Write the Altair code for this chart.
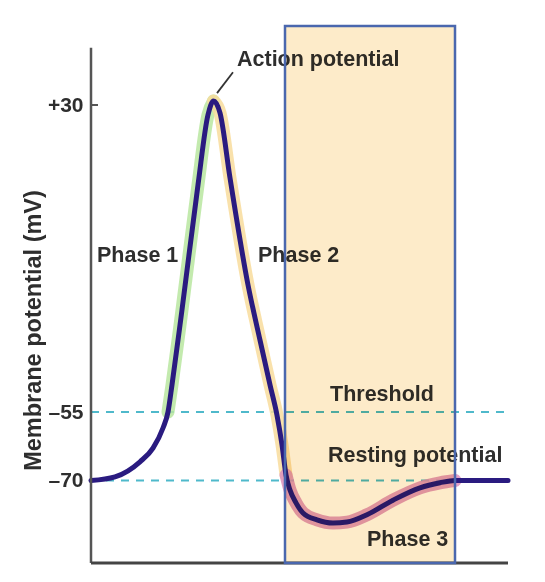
import altair as alt
import pandas as pd

# ---- data ----
time_ms = [0.00, 0.48, 0.98, 1.24, 1.44, 1.54, 1.62, 1.82, 2.14, 2.34, 2.45, 2.58,
           2.78, 3.14, 3.38, 3.58, 3.72, 3.82, 3.90, 3.98, 4.10, 4.24, 4.52, 4.84,
           5.12, 5.52, 6.04, 6.58, 6.98, 7.28, 8.34]
potential_mv = [-70.0, -69.2, -65.9, -62.9, -58.5, -55.0, -47.5, -26.7, 7.9, 27.3, 31.1, 27.8,
                9.8, -19.8, -35.1, -47.5, -55.7, -62.2, -68.8, -72.1, -74.9, -77.1, -78.6, -79.3,
                -79.1, -77.5, -74.3, -71.6, -70.5, -70.0, -70.0]

phase_names = ["Phase 1", "Phase 2", "Phase 3"]
phase_start = [5, 10, 18]
phase_end = [10, 18, 29]
phase_colors = ["#b9e6a0", "#f8dc9c", "#dc8fbc"]

label_text = ["Action potential", "Phase 1", "Phase 2", "Threshold", "Resting potential", "Phase 3"]
label_t = [2.92, 0.12, 3.34, 4.78, 4.74, 5.52]
label_mv = [40.7, -13.5, -13.5, -52.0, -66.0, -84.3]

level_mv = [-55, -70]
level_end_t = [8.36, 7.30]

tick_values = [30, -55, -70]

box_t = [3.88, 7.28]
y_min, y_max = -88.05, 51.9
x_max = 8.34
axis_top_mv = 45.9

FONT = "Liberation Sans, Arial, sans-serif"
TXT = "#2e2e2e"

# ---- scales ----
xsc = alt.Scale(domain=[0, x_max], nice=False, zero=False)
ysc = alt.Scale(domain=[y_min, -70, -55, 30, y_max], range=[537, 454.5, 386, 79, 0],
                nice=False, zero=False)
yaxis = alt.Axis(values=tick_values,
                 labelExpr="datum.value > 0 ? '+' + datum.value : '\u2013' + (-datum.value)",
                 ticks=False, domain=False, grid=False, labelPadding=8,
                 labelFont=FONT, labelFontSize=21, labelFontWeight="bold", labelColor=TXT,
                 title="Membrane potential (mV)", titleFont=FONT, titleFontSize=23.5,
                 titleFontWeight="bold", titleColor=TXT, titleAngle=270,
                 titleX=-58, titleY=304, titleAlign="center", titleBaseline="middle")
X = alt.X("t:Q", scale=xsc, axis=None)
Y = alt.Y("mv:Q", scale=ysc, axis=yaxis)

curve = pd.DataFrame({"t": time_ms, "mv": potential_mv})

layers = []

# dashed reference levels
levels = pd.DataFrame({"t": [0.0] * len(level_mv), "t2": level_end_t, "mv": level_mv})
layers.append(alt.Chart(levels).mark_rule(color="#4fb9cb", strokeWidth=2.2, strokeDash=[8, 7])
              .encode(x=X, x2="t2:Q", y=Y))

# glows for each phase
for name, a, b, col in zip(phase_names, phase_start, phase_end, phase_colors):
    seg = curve.iloc[a:b + 1]
    layers.append(alt.Chart(seg).mark_line(color=col, strokeWidth=13, opacity=0.85,
                                           interpolate="monotone", strokeCap="round")
                  .encode(x=X, y=Y))

# main trace
layers.append(alt.Chart(curve).mark_line(color="#2a1b80", strokeWidth=5,
                                         interpolate="monotone", strokeCap="round",
                                         strokeJoin="round")
              .encode(x=X, y=Y))

# leader line to "Action potential"
leader = pd.DataFrame({"t": [2.52], "t2": [2.84], "mv": [33.3], "mv2": [39.1]})
layers.append(alt.Chart(leader).mark_rule(color="#333333", strokeWidth=1.8)
              .encode(x=X, x2="t2:Q", y=Y, y2="mv2:Q"))

# labels
labels = pd.DataFrame({"t": label_t, "mv": label_mv, "txt": label_text})
layers.append(alt.Chart(labels).mark_text(font=FONT, fontSize=21.5, fontWeight="bold",
                                          color=TXT, align="left", baseline="alphabetic")
              .encode(x=X, y=Y, text="txt:N"))

# +30 tick
tick = pd.DataFrame({"t": [0.0], "t2": [0.14], "mv": [30]})
layers.append(alt.Chart(tick).mark_rule(color="#555555", strokeWidth=2)
              .encode(x=X, x2="t2:Q", y=Y))

# axis lines
yline = pd.DataFrame({"t": [0.0], "mv": [y_min], "mv2": [axis_top_mv]})
layers.append(alt.Chart(yline).mark_rule(color="#555555", strokeWidth=2.5)
              .encode(x=X, y=Y, y2="mv2:Q"))
xline = pd.DataFrame({"t": [0.0], "t2": [x_max], "mv": [y_min]})
layers.append(alt.Chart(xline).mark_rule(color="#444444", strokeWidth=3)
              .encode(x=X, x2="t2:Q", y=Y))

# highlighted box (multiplied over everything under it)
box = pd.DataFrame({"t": [box_t[0]], "t2": [box_t[1]], "mv": [y_min], "mv2": [y_max]})
layers.append(alt.Chart(box).mark_rect(fill="#fdebc9", blend="multiply")
              .encode(x=X, x2="t2:Q", y=Y, y2="mv2:Q"))
layers.append(alt.Chart(box).mark_rect(fillOpacity=0, stroke="#4a67ae", strokeWidth=2.5)
              .encode(x=X, x2="t2:Q", y=Y, y2="mv2:Q"))

chart = (alt.layer(*layers)
         .properties(width=417, height=537, autosize="none",
                     padding={"left": 83, "top": 18, "right": 20, "bottom": 10})
         .configure_view(stroke=None))

chart.save("out.html", embed_options={"renderer": "svg", "actions": False})
